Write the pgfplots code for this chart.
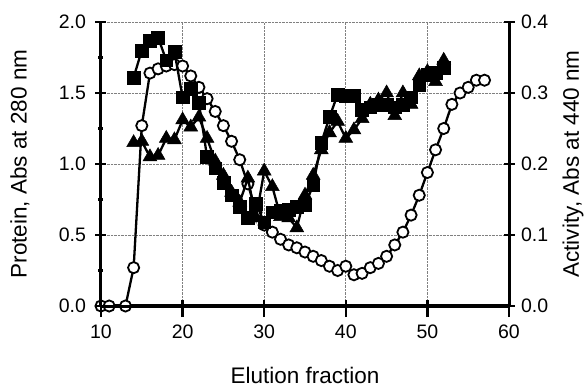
\documentclass[border=0pt]{standalone}
\usepackage{pgfplots}
\pgfplotsset{compat=1.18}
\usepackage{fontspec}
\setmainfont{Liberation Sans}

\pgfplotstableread{
x y
10 0
11 0
13 0
14 0.054
15 0.254
16 0.328
17 0.334
18 0.338
19 0.340
20 0.338
21 0.324
22 0.308
23 0.292
24 0.274
25 0.254
26 0.232
27 0.206
28 0.172
29 0.132
30 0.114
31 0.104
32 0.094
33 0.086
34 0.082
35 0.076
36 0.070
37 0.064
38 0.056
39 0.050
40 0.056
41 0.044
42 0.046
43 0.054
44 0.060
45 0.070
46 0.086
47 0.104
48 0.128
49 0.156
50 0.188
51 0.220
52 0.250
53 0.284
54 0.300
55 0.308
56 0.318
57 0.318
}\activity

\pgfplotstableread{
x y
14 1.61
15 1.80
16 1.87
17 1.89
18 1.73
19 1.79
20 1.47
21 1.53
22 1.43
23 1.05
24 0.97
25 0.87
26 0.78
27 0.70
28 0.62
29 0.72
30 0.59
31 0.66
32 0.67
33 0.68
34 0.70
35 0.71
36 0.85
37 1.15
38 1.33
39 1.49
40 1.48
41 1.48
42 1.38
43 1.40
44 1.42
45 1.42
46 1.40
47 1.42
48 1.47
49 1.56
50 1.63
51 1.64
52 1.68
}\proteinA

\pgfplotstableread{
x y
14 1.15
15 1.16
16 1.05
17 1.06
18 1.18
19 1.17
20 1.31
21 1.26
22 1.33
23 1.18
24 1.02
25 0.92
26 0.80
27 0.73
28 0.90
29 0.62
30 0.95
31 0.84
32 0.63
33 0.62
34 0.55
35 0.78
36 0.92
37 1.10
38 1.22
39 1.30
40 1.18
41 1.24
42 1.32
43 1.42
44 1.45
45 1.50
46 1.34
47 1.50
48 1.42
49 1.62
50 1.65
51 1.58
52 1.73
}\proteinB

\begin{document}
\begin{tikzpicture}
\pgfplotsset{
  every axis/.append style={
    width=408pt, height=284pt, scale only axis,
    xmin=10, xmax=60,
    axis line style={line width=3pt},
    tick style={line width=2.5pt, black},
    major tick length=11pt,
    minor tick length=5pt,
    tick label style={font=\fontsize{19.5}{22}\selectfont},
    /pgf/number format/assume math mode=true,
  },
}
\begin{axis}[
  axis x line=bottom, axis y line=right,
  ymin=0, ymax=0.4,
  ytick={0,0.1,0.2,0.3,0.4},
  yticklabel style={/pgf/number format/fixed, /pgf/number format/fixed zerofill, /pgf/number format/precision=1, anchor=west, xshift=3pt},
  xtick={10,20,30,40,50,60},
  xticklabels={},
  tick align=center,
  xmajorgrids, ymajorgrids,
  grid style={densely dotted, gray, line width=0.8pt},
  ylabel={Activity, Abs at 440 nm},
  ylabel style={font=\fontsize{22.5}{26}\selectfont, at={([shift={(64pt,0pt)}]rel axis cs:1,0.5)}, anchor=center},
  x axis line style={-},
  y axis line style={-},
]
\coordinate (ll) at (rel axis cs:0,0);
\coordinate (ur) at (rel axis cs:1,1);
\addplot[black, line width=2.3pt, mark=*, mark size=5.6pt,
  mark options={fill=white, line width=1.8pt}] table[x=x,y=y]{\activity};
\end{axis}
\begin{axis}[
  axis x line=bottom, axis y line=left,
  ymin=0, ymax=2,
  ytick={0,0.5,1,1.5,2},
  minor ytick={0.25,0.75,1.25,1.75},
  yticklabel style={/pgf/number format/fixed, /pgf/number format/fixed zerofill, /pgf/number format/precision=1, xshift=-6pt},
  xtick={10,20,30,40,50,60},
  xtick align=outside, ytick align=center,
  xticklabel style={yshift=-4pt},
  xlabel={Elution fraction},
  xlabel style={font=\fontsize{22.5}{26}\selectfont, at={([shift={(0pt,-69pt)}]rel axis cs:0.5,0)}, anchor=center},
  ylabel={Protein, Abs at 280 nm},
  ylabel style={font=\fontsize{22.5}{26}\selectfont, at={([shift={(-81pt,0pt)}]rel axis cs:0,0.5)}, anchor=center},
  x axis line style={-},
  y axis line style={-},
]
\addplot[black, line width=2.3pt, mark=triangle*, mark size=8pt,
  mark options={fill=black, line width=0.5pt}] table[x=x,y=y]{\proteinB};
\addplot[black, line width=2.3pt, mark=square*, mark size=6.4pt,
  mark options={fill=black, line width=0.5pt}] table[x=x,y=y]{\proteinA};
\end{axis}
\pgfresetboundingbox
\path ([shift={(-101pt,-82pt)}]ll) rectangle ([shift={(75pt,22pt)}]ur);
\end{tikzpicture}
\end{document}
